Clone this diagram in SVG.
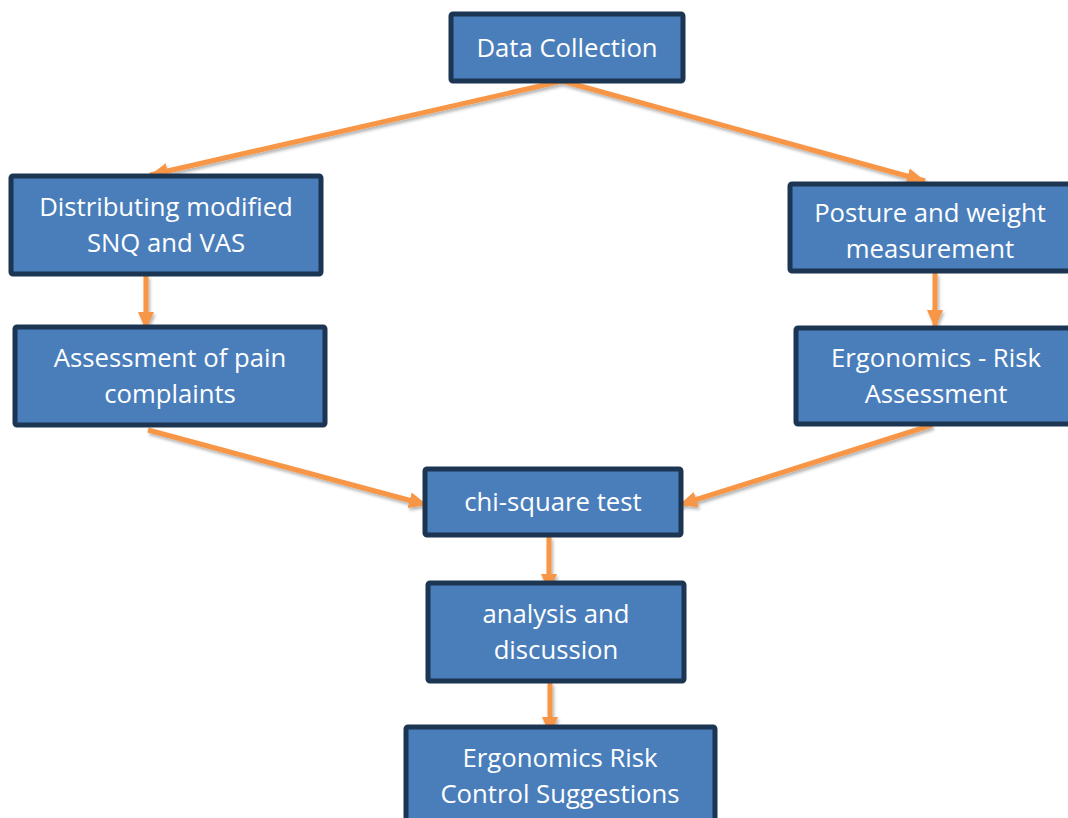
<svg xmlns="http://www.w3.org/2000/svg" width="1068" height="818" viewBox="0 0 1068 818">
<style>
.box{fill:#4a7ebb;stroke:#1b3553;stroke-width:5}
.lbl{fill:#ffffff;font-family:"Open Sans","Liberation Sans",sans-serif;font-size:25.7px;text-anchor:middle}
.arr{stroke:#f79646;stroke-width:5;fill:none;marker-end:url(#ah);filter:url(#sh)}
</style>
<defs>
<marker id="ah" markerUnits="userSpaceOnUse" markerWidth="20" markerHeight="18" refX="18" refY="8" orient="auto" viewBox="0 0 20 16">
<path d="M0,0 L18,8 L0,16 Z" fill="#f79646"/>
</marker>
<filter id="sh" filterUnits="userSpaceOnUse" x="0" y="0" width="1068" height="818">
<feDropShadow dx="1.5" dy="2.5" stdDeviation="1.5" flood-color="#000" flood-opacity="0.3"/>
</filter>
</defs>
<g id="connectors">
<line class="arr" x1="562" y1="81" x2="150" y2="175"/>
<line class="arr" x1="562" y1="81" x2="925" y2="181"/>
<line class="arr" x1="146" y1="276" x2="146" y2="330"/>
<line class="arr" x1="935" y1="273" x2="935" y2="328"/>
<line class="arr" x1="148" y1="430" x2="427" y2="505"/>
<line class="arr" x1="932" y1="425" x2="679" y2="505"/>
<line class="arr" x1="549" y1="537" x2="549" y2="592"/>
<line class="arr" x1="550" y1="683" x2="550" y2="735"/>
</g>
<g id="n-data">
<rect class="box" x="451" y="14" width="232" height="67" rx="2"/>
<text class="lbl" x="567" y="57">Data Collection</text>
</g>
<g id="n-snq">
<rect class="box" x="11" y="176" width="310" height="98" rx="2"/>
<text class="lbl" x="166" y="216">Distributing modified</text>
<text class="lbl" x="166" y="252">SNQ and VAS</text>
</g>
<g id="n-posture">
<rect class="box" x="790" y="184" width="285" height="87" rx="2"/>
<text class="lbl" x="930" y="222">Posture and weight</text>
<text class="lbl" x="930" y="258">measurement</text>
</g>
<g id="n-pain">
<rect class="box" x="15" y="327" width="310" height="98" rx="2"/>
<text class="lbl" x="170" y="367">Assessment of pain</text>
<text class="lbl" x="170" y="403">complaints</text>
</g>
<g id="n-ergo">
<rect class="box" x="796" y="328" width="285" height="96" rx="2"/>
<text class="lbl" x="936" y="367">Ergonomics - Risk</text>
<text class="lbl" x="936" y="403">Assessment</text>
</g>
<g id="n-chi">
<rect class="box" x="425" y="469" width="256" height="66" rx="2"/>
<text class="lbl" x="553" y="511">chi-square test</text>
</g>
<g id="n-analysis">
<rect class="box" x="428" y="583" width="256" height="98" rx="2"/>
<text class="lbl" x="556" y="623">analysis and</text>
<text class="lbl" x="556" y="659">discussion</text>
</g>
<g id="n-control">
<rect class="box" x="406" y="727" width="309" height="100" rx="2"/>
<text class="lbl" x="560" y="767">Ergonomics Risk</text>
<text class="lbl" x="560" y="803">Control Suggestions</text>
</g>
</svg>
